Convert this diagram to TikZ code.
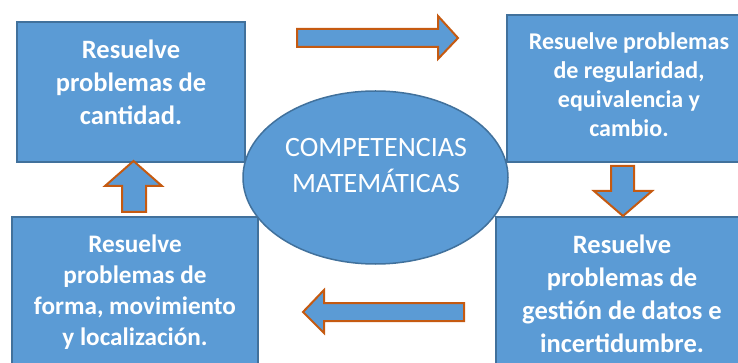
\documentclass[tikz,border=0pt]{standalone}
\usepackage{fontspec}
\setmainfont{Carlito}
\usetikzlibrary{shapes.geometric}
\definecolor{boxfill}{HTML}{5B9BD5}
\definecolor{boxline}{HTML}{41719C}
\definecolor{arrline}{HTML}{C55A11}
\begin{document}
\begin{tikzpicture}[x=1pt,y=-1pt,
  bluebox/.style={draw=boxline,fill=boxfill,line width=1.5pt,rectangle,inner sep=0pt},
  boxtext/.style={text=white,align=center,inner sep=0pt,font=\bfseries\fontsize{26.5}{33}\selectfont},
  blockarrow/.style={draw=arrline,fill=boxfill,line width=2pt,line join=miter}]
\useasboundingbox (0,0) rectangle (738,363);
\clip (0,0) rectangle (738,363);
% boxes
\node[bluebox,minimum width=228pt,minimum height=140pt] (b1) at (131,92) {};
\node[bluebox,minimum width=244pt,minimum height=147pt] (b2) at (629,88.5) {};
\node[bluebox,minimum width=246pt,minimum height=166pt] (b3) at (135,300) {};
\node[bluebox,minimum width=252pt,minimum height=158pt] (b4) at (622,296) {};
% texts
\node[boxtext] (t1) at (131,82) {Resuelve\\problemas de\\cantidad.};
\node[boxtext,font=\bfseries\fontsize{24}{29}\selectfont] (t2) at (629,85) {Resuelve problemas\\de regularidad,\\equivalencia y\\cambio.};
\node[boxtext,font=\bfseries\fontsize{25.2}{31}\selectfont] (t3) at (135,292) {Resuelve\\problemas de\\forma, movimiento\\y localización.};
\node[boxtext] (t4) at (622,294) {Resuelve\\problemas de\\gestión de datos e\\incertidumbre.};
% ellipse
\node[ellipse,draw=boxline,fill=boxfill,line width=1.5pt,minimum width=265pt,minimum height=173pt,inner sep=0pt] (el) at (375.5,177.5) {};
\node[text=white,align=center,inner sep=0pt,font=\fontsize{28}{36}\selectfont] (et) at (376,166) {COMPETENCIAS\\MATEMÁTICAS};
% block arrows
\draw[blockarrow] (297,29) -- (438,29) -- (438,16) -- (458,38) -- (438,59) -- (438,47) -- (297,47) -- cycle;
\draw[blockarrow] (611,166) -- (634,166) -- (634,191) -- (652,191) -- (623,216) -- (594,191) -- (611,191) -- cycle;
\draw[blockarrow] (122,212) -- (122,186) -- (105,186) -- (133.5,161) -- (162,186) -- (146,186) -- (146,212) -- cycle;
\draw[blockarrow] (464,303) -- (324,303) -- (324,290) -- (303,312) -- (324,333) -- (324,321) -- (464,321) -- cycle;
\end{tikzpicture}
\end{document}
